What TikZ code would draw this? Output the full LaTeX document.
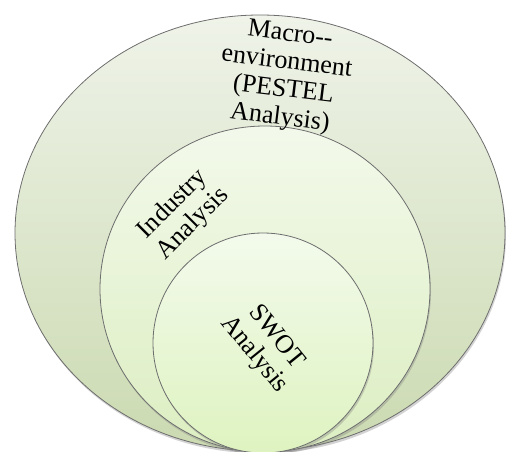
\documentclass[tikz,border=0pt]{standalone}
\usepackage{fontspec}
\setmainfont{Liberation Serif}
\usetikzlibrary{shadows}
\definecolor{rim}{HTML}{6E6E6E}
\tikzset{
  ring/.style={draw=rim, line width=0.8pt,
    drop shadow={opacity=0.35, shadow xshift=1pt, shadow yshift=-2.5pt}},
  label/.style={font=\fontsize{26}{28}\selectfont, align=center, inner sep=0pt}
}
\begin{document}
\begin{tikzpicture}[x=1pt,y=-1pt]
  \useasboundingbox (0,0) rectangle (506,452);
  % outer ring: macro-environment
  \path[ring, top color={rgb,255:red,239;green,243;blue,233}, bottom color={rgb,255:red,203;green,218;blue,177}]
    (260,233) ellipse [x radius=245, y radius=218];
  % middle ring: industry
  \path[ring, top color={rgb,255:red,243;green,249;blue,235}, bottom color={rgb,255:red,220;green,238;blue,193}]
    (265,289) ellipse [x radius=165, y radius=163];
  % inner ring: SWOT
  \path[ring, top color={rgb,255:red,243;green,250;blue,236}, bottom color={rgb,255:red,222;green,243;blue,192}]
    (263,343) circle [radius=110];
  \node[label, rotate=-7] (macro) at (285,77) {Macro-{}-\\environment\\(PESTEL\\Analysis)};
  \node[label, rotate=45] (industry) at (183,214) {Industry\\Analysis};
  \node[label, rotate=-51] (swot) at (265,346) {SWOT\\Analysis};
\end{tikzpicture}
\end{document}
